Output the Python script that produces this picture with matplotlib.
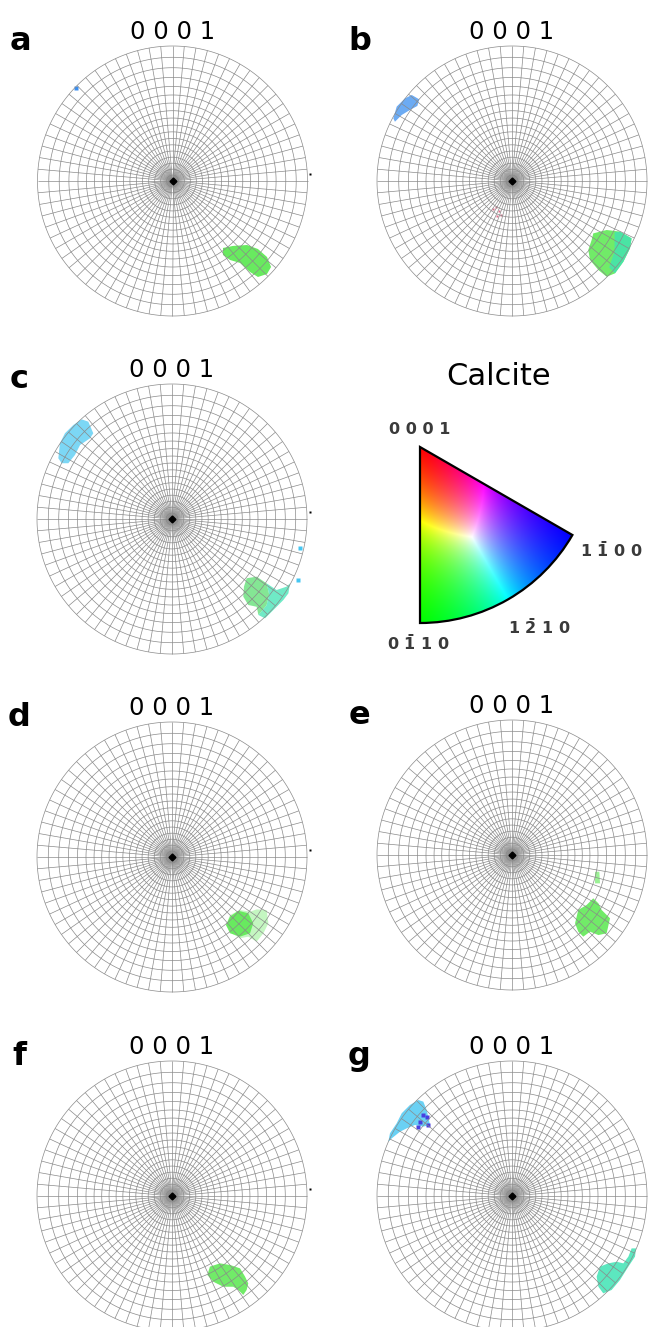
import numpy as np
import matplotlib

matplotlib.use("Agg")
import matplotlib.pyplot as plt
from matplotlib.collections import LineCollection
from matplotlib.patches import Polygon, Wedge

# ---- data: blob outlines in pole-figure disc coordinates (unit circle) ----
A_GREEN = [(0.374, -0.496), (0.448, -0.481), (0.552, -0.474), (0.633, -0.504),
           (0.700, -0.563), (0.730, -0.637), (0.700, -0.689), (0.633, -0.711),
           (0.574, -0.674), (0.500, -0.607), (0.426, -0.585), (0.374, -0.548)]
A_DOTS = [(-0.715, 0.689)]

B_GREEN = [(0.602, -0.388), (0.701, -0.363), (0.800, -0.375), (0.886, -0.425),
           (0.874, -0.499), (0.825, -0.598), (0.763, -0.684), (0.701, -0.709),
           (0.640, -0.659), (0.578, -0.585), (0.565, -0.511), (0.590, -0.437)]
B_TEAL = [(0.760, -0.380), (0.800, -0.375), (0.886, -0.425), (0.874, -0.499),
          (0.825, -0.598), (0.763, -0.684), (0.720, -0.640), (0.760, -0.520)]
B_BLUE = [(-0.879, 0.464), (-0.854, 0.551), (-0.793, 0.612), (-0.743, 0.637),
          (-0.687, 0.605), (-0.701, 0.556), (-0.756, 0.526), (-0.817, 0.489),
          (-0.867, 0.439)]
B_PINK = [(-0.14, -0.21), (-0.12, -0.19), (-0.10, -0.22), (-0.08, -0.25), (-0.11, -0.26)]

C_CYAN = [(-0.830, 0.561), (-0.793, 0.635), (-0.731, 0.696), (-0.669, 0.738),
          (-0.620, 0.721), (-0.583, 0.635), (-0.607, 0.598), (-0.681, 0.548),
          (-0.719, 0.474), (-0.768, 0.413), (-0.817, 0.413), (-0.842, 0.450)]
C_GREEN = [(0.553, -0.439), (0.627, -0.427), (0.701, -0.477), (0.720, -0.560),
           (0.700, -0.640), (0.640, -0.711), (0.627, -0.650), (0.565, -0.637),
           (0.528, -0.575), (0.533, -0.501)]
C_TEAL = [(0.701, -0.477), (0.775, -0.526), (0.849, -0.501), (0.874, -0.477),
          (0.862, -0.551), (0.825, -0.600), (0.751, -0.674), (0.689, -0.736),
          (0.640, -0.711), (0.700, -0.640), (0.720, -0.560)]
C_DOTS = [(0.948, -0.217), (0.93, -0.45)]

D_HALO = [(0.430, -0.430), (0.504, -0.393), (0.578, -0.405), (0.627, -0.388),
          (0.701, -0.393), (0.714, -0.491), (0.677, -0.565), (0.627, -0.627),
          (0.565, -0.590), (0.504, -0.602), (0.442, -0.565), (0.400, -0.504)]
D_CORE = [(0.430, -0.442), (0.491, -0.398), (0.565, -0.417), (0.602, -0.491),
          (0.578, -0.565), (0.504, -0.590), (0.430, -0.565), (0.400, -0.504)]

E_GREEN = [(0.491, -0.407), (0.553, -0.370), (0.602, -0.321), (0.640, -0.358),
           (0.664, -0.407), (0.726, -0.469), (0.701, -0.580), (0.640, -0.593),
           (0.578, -0.568), (0.528, -0.605), (0.491, -0.568), (0.467, -0.506),
           (0.479, -0.457)]
E_SPECK = [(0.615, -0.124), (0.647, -0.124), (0.652, -0.210), (0.615, -0.210)]

F_GREEN = [(0.281, -0.523), (0.356, -0.499), (0.430, -0.511), (0.504, -0.536),
           (0.541, -0.597), (0.565, -0.647), (0.553, -0.696), (0.528, -0.733),
           (0.491, -0.696), (0.454, -0.672), (0.380, -0.672), (0.306, -0.635),
           (0.262, -0.585)]

G_CYAN = [(-0.854, 0.539), (-0.817, 0.613), (-0.756, 0.674), (-0.694, 0.711),
          (-0.657, 0.699), (-0.632, 0.637), (-0.607, 0.526), (-0.657, 0.514),
          (-0.719, 0.526), (-0.780, 0.501), (-0.830, 0.476), (-0.891, 0.427),
          (-0.916, 0.402), (-0.904, 0.464)]
G_DOTS = [(-0.632, 0.587), (-0.681, 0.550), (-0.620, 0.526), (-0.694, 0.514),
          (-0.657, 0.600)]
G_TEAL = [(0.652, -0.523), (0.713, -0.499), (0.775, -0.487), (0.825, -0.499),
          (0.862, -0.449), (0.886, -0.388), (0.919, -0.388), (0.911, -0.449),
          (0.862, -0.523), (0.800, -0.622), (0.738, -0.696), (0.676, -0.721),
          (0.640, -0.672), (0.627, -0.598)]

EDGE_DOT = [(1.02, 0.05)]

LETTERS = ["a", "b", "c", "d", "e", "f", "g"]
POLE = "0 0 0 1"
KEY_LABELS = ["0 0 0 1", r"1 $\mathregular{\bar{1}}$ 0 0",
              r"1 $\mathregular{\bar{2}}$ 1 0", r"0 $\mathregular{\bar{1}}$ 1 0"]

# net spacing (degrees)
NET_STEP = 5

GREEN = "#58e84e"
TEAL = "#3fe3b4"
CYAN = "#45c6f2"
BLUE = "#3b8ff0"

PANELS = {
    "a": dict(polys=[(A_GREEN, GREEN, 0.9)], dots=[(A_DOTS, BLUE, 3), (EDGE_DOT, "k", 1.5)]),
    "b": dict(polys=[(B_GREEN, GREEN, 0.85), (B_TEAL, TEAL, 0.8), (B_BLUE, BLUE, 0.75)],
              dots=[(B_PINK, "#e0708c", 1.5)]),
    "c": dict(polys=[(C_CYAN, CYAN, 0.7), (C_GREEN, "#66e07a", 0.8), (C_TEAL, TEAL, 0.75)],
              dots=[(C_DOTS, CYAN, 2.5), (EDGE_DOT, "k", 1.5)]),
    "d": dict(polys=[(D_HALO, GREEN, 0.35), (D_CORE, GREEN, 0.85)],
              dots=[(EDGE_DOT, "k", 1.5)]),
    "e": dict(polys=[(E_GREEN, GREEN, 0.85), (E_SPECK, GREEN, 0.6)], dots=[]),
    "f": dict(polys=[(F_GREEN, GREEN, 0.85)], dots=[(EDGE_DOT, "k", 1.5)]),
    "g": dict(polys=[(G_CYAN, CYAN, 0.8), (G_TEAL, TEAL, 0.85)],
              dots=[(G_DOTS, "#4a3fe0", 3)]),
}

# panel centres in pixels (layout)
W, H, R = 648, 1327, 135
CENTRES = {"a": (172.5, 181), "b": (512, 181), "c": (172, 519), "d": (172, 857),
           "e": (512, 855), "f": (172, 1196), "g": (512, 1196)}
LIM = 1.05


def net_lines():
    """Stereographic polar net: circles of constant tilt, radial lines of azimuth."""
    segs = []
    phi = np.linspace(0, 2 * np.pi, 361)
    for tilt in range(NET_STEP, 91, NET_STEP):
        r = np.tan(np.radians(tilt) / 2)
        segs.append(np.column_stack([r * np.cos(phi), r * np.sin(phi)]))
    for az in range(0, 360, NET_STEP):
        a = np.radians(az)
        segs.append([(0, 0), (np.cos(a), np.sin(a))])
    return segs


def pole_figure(fig, letter):
    cx, cy = CENTRES[letter]
    half = LIM * R
    ax = fig.add_axes([(cx - half) / W, (H - cy - half) / H, 2 * half / W, 2 * half / H])
    ax.set_xlim(-LIM, LIM)
    ax.set_ylim(-LIM, LIM)
    ax.set_aspect("equal")
    ax.axis("off")
    spec = PANELS[letter]
    for verts, col, alpha in spec["polys"]:
        ax.add_patch(Polygon(verts, closed=True, fc=col, ec="none", alpha=alpha, zorder=1))
    for pts, col, size in spec["dots"]:
        p = np.array(pts)
        ax.plot(p[:, 0], p[:, 1], "s", ms=size, color=col, mec="none", zorder=2,
                clip_on=False)
    ax.add_collection(LineCollection(net_lines(), colors="#8a8a8a", linewidths=0.5,
                                     zorder=3))
    ax.plot([0], [0], "D", ms=3.5, color="k", zorder=4)
    ax.text(0, 1.105, POLE, ha="center", va="center", fontsize=17.5)
    ax.text(-1.13, 1.03, letter, ha="center", va="center", fontsize=23,
            fontweight="bold")


def key_colours(n=400):
    """IPF colour key: red at 0001, green at 01-10, blue at 1-100, white centre."""
    x = np.linspace(0, 1, n)
    y = np.linspace(-1, 0, n)
    X, Y = np.meshgrid(x, y)
    t = np.clip(np.hypot(X, Y), 0, 1)
    s = np.clip((np.degrees(np.arctan2(Y, X)) + 90) / 60, 0, 1)
    rgb = np.stack([(1 - t) / 0.41, t * (1 - s) / 0.295, t * s / 0.295], axis=-1)
    rgb /= rgb.max(axis=-1, keepdims=True) + 1e-9
    return rgb


def colour_key(fig):
    # key axes: apex at (0, 0), radius 1 = 176 px
    k = 176
    left, right, top, bottom = 420 - 0.45 * k, 420 + 1.3 * k, 447 - 0.55 * k, 447 + 1.2 * k
    ax = fig.add_axes([left / W, (H - bottom) / H, (right - left) / W, (bottom - top) / H])
    ax.set_xlim(-0.45, 1.3)
    ax.set_ylim(-1.2, 0.55)
    ax.set_aspect("equal")
    ax.axis("off")
    wedge = Wedge((0, 0), 1, -90, -30, fc="none", ec="k", lw=1.6, zorder=3)
    im = ax.imshow(key_colours(), extent=(0, 1, -1, 0), origin="lower",
                   interpolation="bilinear", zorder=1)
    ax.add_patch(wedge)
    im.set_clip_path(wedge)
    ax.text(0.449, 0.398, "Calcite", ha="center", va="center", fontsize=22)
    pos = [(0.0, 0.097), (1.085, -0.585), (0.676, -1.023), (-0.011, -1.114)]
    for (x, y), lab in zip(pos, KEY_LABELS):
        ax.text(x, y, lab, ha="center", va="center", fontsize=11.5,
                color="#3a3a3a", fontweight="bold")


def main():
    fig = plt.figure(figsize=(W / 100, H / 100), dpi=100)
    for letter in LETTERS:
        pole_figure(fig, letter)
    colour_key(fig)
    fig.savefig("out.png", dpi=100, facecolor="white")


if __name__ == "__main__":
    main()
